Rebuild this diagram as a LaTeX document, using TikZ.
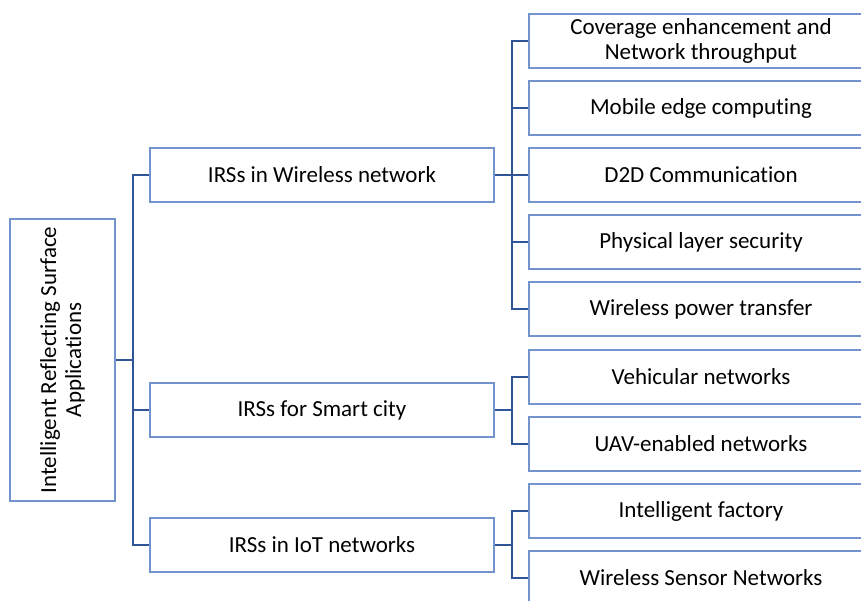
\documentclass[tikz,border=0pt]{standalone}
\usepackage{fontspec}
\setmainfont[Ligatures=NoCommon]{Carlito}
\definecolor{boxline}{RGB}{114,147,203}
\definecolor{linkline}{RGB}{47,85,151}
\tikzset{
  box/.style={draw=boxline, line width=1.2pt, rectangle, inner sep=0pt,
    align=center, font=\fontsize{23}{25}\selectfont, text=black},
  rootbox/.style={box, minimum width=105pt, minimum height=282pt},
  midbox/.style={box, minimum width=344pt, minimum height=54pt},
  leafbox/.style={box, minimum width=344pt, minimum height=54pt},
  conn/.style={draw=linkline, line width=1.1pt}
}
\begin{document}
\begin{tikzpicture}[x=1pt,y=-1pt]
\clip (0,0) rectangle (861,601);
\fill[white] (0,0) rectangle (861,601);

% root
\node[rootbox] (root) at (62.5,360) {};
\node[rotate=90, align=center, font=\fontsize{23}{25}\selectfont] (roottext) at (62.5,360)
  {Intelligent Reflecting Surface\\Applications};

% first level
\node[midbox] (wn) at (322,175) {IRSs in Wireless network};
\node[midbox] (sc) at (322,410) {IRSs for Smart city};
\node[midbox] (iot) at (322,545) {IRSs in IoT networks};

% leaves
\node[leafbox] (cov) at (701,41) {Coverage enhancement and\\Network throughput};
\node[leafbox] (mec) at (701,108) {Mobile edge computing};
\node[leafbox] (d2d) at (701,175) {D2D Communication};
\node[leafbox] (pls) at (701,242) {Physical layer security};
\node[leafbox] (wpt) at (701,309) {Wireless power transfer};
\node[leafbox] (veh) at (701,377) {Vehicular networks};
\node[leafbox] (uav) at (701,444) {UAV-enabled networks};
\node[leafbox] (fac) at (701,511) {Intelligent factory};
\node[leafbox] (wsn) at (701,578) {Wireless Sensor Networks};

% branch columns
\coordinate (trunk) at (133,360);
\coordinate (fork) at (512,0);

% root to first level
\draw[conn] (root.east) -- (root.east -| trunk);
\draw[conn] (wn.west) -| (trunk) |- (iot.west);
\draw[conn] (sc.west -| trunk) -- (sc.west);

% wireless network branch
\draw[conn] (wn.east) -- (wn.east -| fork);
\draw[conn] (cov.west) -| (fork |- wpt.west) -- (wpt.west);
\foreach \n in {mec,d2d,pls} \draw[conn] (\n.west -| fork) -- (\n.west);

% smart city branch
\draw[conn] (sc.east) -- (sc.east -| fork);
\draw[conn] (veh.west) -| (fork |- uav.west) -- (uav.west);

% IoT branch
\draw[conn] (iot.east) -- (iot.east -| fork);
\draw[conn] (fac.west) -| (fork |- wsn.west) -- (wsn.west);
\end{tikzpicture}
\end{document}
